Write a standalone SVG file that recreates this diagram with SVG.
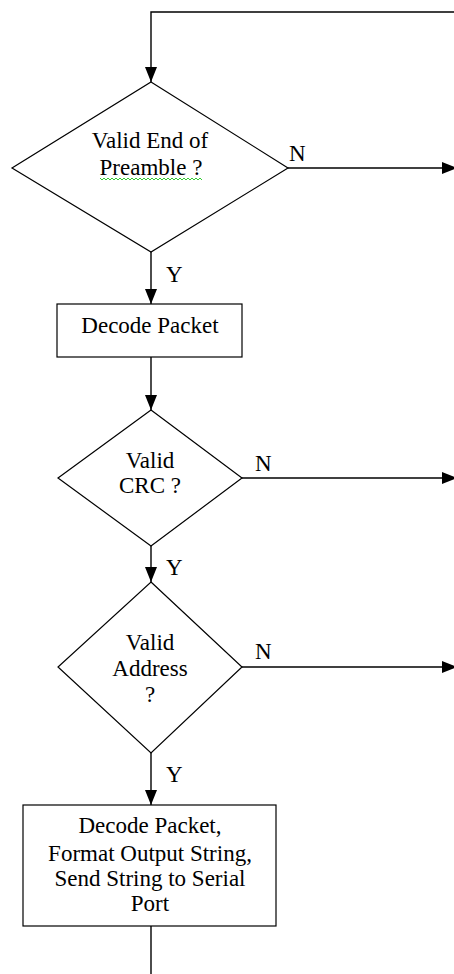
<svg xmlns="http://www.w3.org/2000/svg" width="454" height="974" viewBox="0 0 454 974">
<style>
.shape{fill:#fff;stroke:#000;stroke-width:1.2}
.conn{fill:none;stroke:#000;stroke-width:1.4}
.t{font-family:"Liberation Serif","Times New Roman",serif;font-size:23px;fill:#000}
.c{text-anchor:middle}
</style>
<defs>
<marker id="arr" viewBox="0 0 15 12" refX="15" refY="6" markerWidth="15" markerHeight="12" markerUnits="userSpaceOnUse" orient="auto">
<path d="M0,0 L15,6 L0,12 Z" fill="#000"/>
</marker>
</defs>
<rect width="454" height="974" fill="#fff"/>
<g id="connectors">
<path class="conn" d="M455,12 H151 V82" marker-end="url(#arr)"/>
<path class="conn" d="M288,168 H457" marker-end="url(#arr)"/>
<path class="conn" d="M151,252 V304" marker-end="url(#arr)"/>
<path class="conn" d="M151,357 V410" marker-end="url(#arr)"/>
<path class="conn" d="M242,478 H457" marker-end="url(#arr)"/>
<path class="conn" d="M151,546 V582" marker-end="url(#arr)"/>
<path class="conn" d="M242,667 H457" marker-end="url(#arr)"/>
<path class="conn" d="M151,753 V805" marker-end="url(#arr)"/>
<path class="conn" d="M151,926 V974"/>
<text class="t" x="289" y="161">N</text>
<text class="t" x="166" y="282">Y</text>
<text class="t" x="255" y="471">N</text>
<text class="t" x="166" y="575">Y</text>
<text class="t" x="255" y="659">N</text>
<text class="t" x="166" y="782">Y</text>
</g>
<g id="d1">
<polygon class="shape" points="151,82 288,168 151,252 12,168"/>
<text class="t c" x="150" y="148">Valid End of</text>
<text class="t c" x="151" y="175">Preamble ?</text>
<polyline fill="none" stroke="#3c3" stroke-width="1" points="100,178 102,180 104,178 106,180 108,178 110,180 112,178 114,180 116,178 118,180 120,178 122,180 124,178 126,180 128,178 130,180 132,178 134,180 136,178 138,180 140,178 142,180 144,178 146,180 148,178 150,180 152,178 154,180 156,178 158,180 160,178 162,180 164,178 166,180 168,178 170,180 172,178 174,180 176,178 178,180 180,178 182,180 184,178 186,180 188,178 190,180 192,178 194,180 196,178 198,180 200,178 202,180"/>
</g>
<g id="r1">
<rect class="shape" x="57" y="304" width="185" height="53"/>
<text class="t c" x="150" y="333">Decode Packet</text>
</g>
<g id="d2">
<polygon class="shape" points="151,410 242,478 151,546 58,478"/>
<text class="t c" x="150" y="468">Valid</text>
<text class="t c" x="150" y="493">CRC ?</text>
</g>
<g id="d3">
<polygon class="shape" points="151,582 242,667 151,753 58,667"/>
<text class="t c" x="150" y="650">Valid</text>
<text class="t c" x="150" y="676">Address</text>
<text class="t c" x="150" y="702">?</text>
</g>
<g id="r2">
<rect class="shape" x="23" y="805" width="253" height="121"/>
<text class="t c" x="150" y="833">Decode Packet,</text>
<text class="t c" x="150" y="861">Format Output String,</text>
<text class="t c" x="150" y="886">Send String to Serial</text>
<text class="t c" x="150" y="911">Port</text>
</g>
</svg>
